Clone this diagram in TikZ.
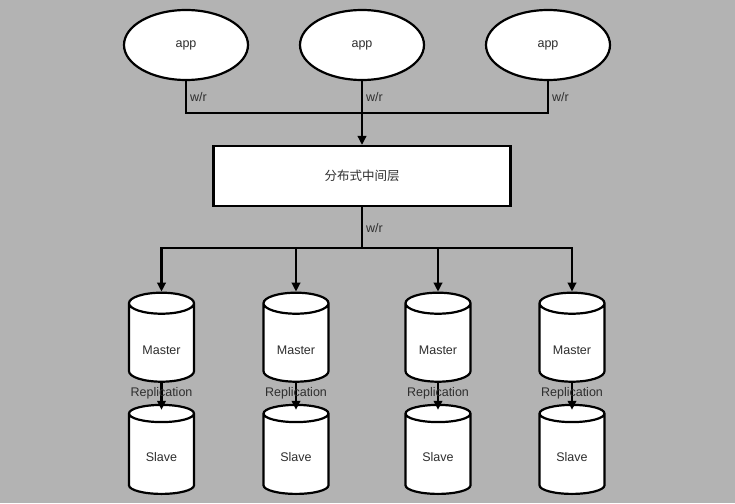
\documentclass[tikz,border=0pt]{standalone}
\usepackage{fontspec}
\setmainfont{Liberation Sans}
\newfontfamily\cjk{Noto Sans CJK SC}
\usetikzlibrary{positioning,arrows.meta,shapes.geometric}
\definecolor{bggray}{HTML}{B3B3B3}
\definecolor{txtgray}{HTML}{2E2E2E}

\begin{document}
\begin{tikzpicture}[x=1pt, y=-1pt, >={Triangle[length=9pt,width=8.5pt]},
        line width=2.2pt, node distance=21pt,
        every node/.style={font=\fontsize{12.5}{14}\selectfont, text=txtgray},
        app/.style={ellipse, draw, fill=white, minimum width=124pt, minimum height=70pt, inner sep=0pt},
        layer/.style={rectangle, draw, fill=white, minimum width=297pt, minimum height=60pt, inner sep=0pt},
        db/.style={cylinder, shape border rotate=90, aspect=0.55, draw, fill=white, minimum width=65pt, minimum height=89pt, inner sep=0pt, text height=25pt, text depth=3pt},
        lbl/.style={right, inner sep=3pt}]
        \fill[bggray] (0,0) rectangle (735,503);

        \node[app] (A1) at (186,45) {app};
        \node[app] (A2) at (362,45) {app};
        \node[app] (A3) at (548,45) {app};
        \coordinate (J1) at (362,113);
        \node[layer] (MW) at (362,176) {\cjk 分布式中间层};
        \coordinate (J2) at (362,248);

        \node[db] (M1) at (161.5,343) {Master};
        \node[db] (M2) at (296,343) {Master};
        \node[db] (M3) at (438,343) {Master};
        \node[db] (M4) at (572,343) {Master};
        \node[db, below=of M1, text height=17pt] (S1) {Slave};
        \node[db, below=of M2, text height=17pt] (S2) {Slave};
        \node[db, below=of M3, text height=17pt] (S3) {Slave};
        \node[db, below=of M4, text height=17pt] (S4) {Slave};

        \draw (A1) -- node[lbl]{w/r} (A1 |- J1) -- (J1);
        \draw (A3) -- node[lbl]{w/r} (A3 |- J1) -- (J1);
        \draw[->] (A2) -- node[lbl]{w/r} (J1) -- (MW);
        \draw (MW) -- node[lbl]{w/r} (J2);
        \draw[->] (J2) -| (M1);
        \draw[->] (J2) -| (M2);
        \draw[->] (J2) -| (M3);
        \draw[->] (J2) -| (M4);

        \draw[->, shorten >=-6pt] (M1) -- node{Replication} (S1);
        \draw[->, shorten >=-6pt] (M2) -- node{Replication} (S2);
        \draw[->, shorten >=-6pt] (M3) -- node{Replication} (S3);
        \draw[->, shorten >=-6pt] (M4) -- node{Replication} (S4);
    \end{tikzpicture}
\end{document}
